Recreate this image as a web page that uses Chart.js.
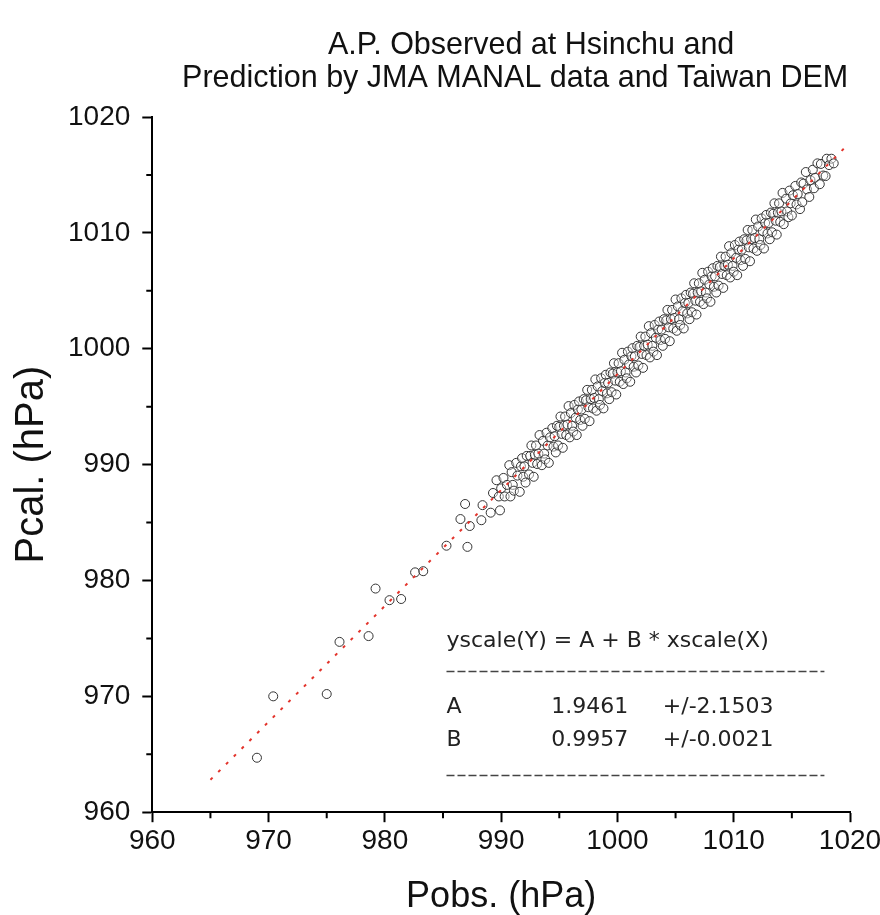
<!DOCTYPE html>
<html lang="en">

<head>
  <meta charset="utf-8" />
  <title>Hsinchu A.P.</title>
  <script src="https://cdn.jsdelivr.net/npm/chart.js@4.4.1/dist/chart.umd.min.js"></script>
  <style>
    body { margin: 0; background: #fff; }
    #wrap { width: 880px; height: 915px; }
  </style>
</head>

<body>
  <div id="wrap"><canvas id="chart" width="880" height="915"></canvas></div>
  <script>
    // title + axis names
    const titleLines = ['A.P. Observed at Hsinchu and', 'Prediction by JMA MANAL data and Taiwan DEM'];
    const xTitle = 'Pobs. (hPa)';
    const yTitle = 'Pcal. (hPa)';

    // axis range (hPa)
    const axisMin = 960;
    const axisMax = 1020;
    const majorStep = 10;
    const minorStep = 5;

    // regression result shown in the box
    const fitA = '1.9461', fitAErr = '+/-2.1503';
    const fitB = '0.9957', fitBErr = '+/-0.0021';
    // ends of the red dotted fit line [Pobs, Pcal]
    const fitLine = [[965.0, 962.8], [1019.7, 1017.5]];

    // scattered low-pressure cases [Pobs, Pcal]
    const sparsePoints = [
      [969.0, 964.7], [970.4, 970.0], [975.0, 970.2], [976.1, 974.7], [978.6, 975.2],
      [979.2, 979.3], [980.4, 978.3], [981.4, 978.4], [982.6, 980.7], [983.3, 980.8],
      [985.3, 983.0], [987.1, 982.9], [986.5, 985.3], [987.3, 984.7], [988.3, 985.2],
      [986.9, 986.6], [988.4, 986.5]
    ];

    // the dense band (989 - 1019 hPa), read off roughly 1 hPa at a time
    const densePoints = [
      [989.1, 985.85], [989.3, 987.55], [989.6, 988.65], [989.8, 987.25], [989.9, 986.05],
      [990.0, 987.95], [990.2, 988.85], [990.3, 987.25], [990.5, 988.25], [990.7, 989.95], [990.8, 987.25], [990.9, 989.35],
      [991.0, 988.25], [991.1, 987.75], [991.3, 990.15], [991.4, 989.05], [991.6, 987.65], [991.7, 989.85], [991.8, 990.55], [991.9, 988.95],
      [992.0, 989.85], [992.1, 988.45], [992.2, 990.75], [992.4, 989.15], [992.5, 990.75], [992.6, 991.65], [992.7, 990.15], [992.8, 988.95], [992.9, 990.85],
      [993.0, 991.65], [993.1, 990.05], [993.2, 990.95], [993.3, 992.55], [993.5, 989.95], [993.6, 992.05], [993.7, 990.95], [993.8, 990.45], [993.9, 992.75],
      [994.0, 991.65], [994.1, 990.15], [994.2, 992.35], [994.4, 993.15], [994.5, 991.55], [994.6, 992.45], [994.7, 991.05], [994.8, 993.35], [994.9, 991.65],
      [995.0, 993.25], [995.1, 994.15], [995.2, 992.65], [995.3, 991.45], [995.4, 993.35], [995.5, 994.15], [995.6, 992.55], [995.7, 993.45], [995.8, 995.05], [995.9, 992.35],
      [996.0, 994.45], [996.1, 993.35], [996.2, 992.85], [996.3, 995.15], [996.4, 994.05], [996.5, 992.55], [996.6, 994.75], [996.7, 995.45], [996.8, 993.85], [996.9, 994.75],
      [997.0, 993.35], [997.1, 995.65], [997.2, 993.95], [997.3, 995.55], [997.4, 996.45], [997.5, 994.95], [997.6, 993.75], [997.7, 995.65], [997.8, 996.45], [997.9, 994.85],
      [998.0, 995.75], [998.1, 997.35], [998.2, 994.65], [998.3, 996.75], [998.4, 995.65], [998.5, 995.15], [998.6, 997.45], [998.7, 996.35], [998.8, 994.85], [998.9, 997.05],
      [999.0, 997.75], [999.1, 996.15], [999.2, 997.05], [999.3, 995.65], [999.4, 997.95], [999.5, 996.25], [999.6, 997.85], [999.7, 998.75], [999.8, 997.25], [999.9, 996.05],
      [1000.0, 997.95], [1000.1, 998.75], [1000.2, 997.15], [1000.3, 998.05], [1000.4, 999.65], [1000.5, 996.95], [1000.6, 999.05], [1000.7, 997.95], [1000.8, 997.45], [1000.9, 999.75],
      [1001.0, 998.65], [1001.1, 997.15], [1001.2, 999.35], [1001.3, 1000.05], [1001.4, 998.45], [1001.5, 999.35], [1001.6, 997.95], [1001.7, 1000.25], [1001.8, 998.55], [1001.9, 1000.15],
      [1002.0, 1001.05], [1002.1, 999.55], [1002.2, 998.35], [1002.3, 1000.25], [1002.4, 1001.05], [1002.5, 999.45], [1002.6, 1000.35], [1002.7, 1001.95], [1002.8, 999.25], [1002.9, 1001.35],
      [1003.0, 1000.25], [1003.1, 999.75], [1003.2, 1002.05], [1003.3, 1000.95], [1003.4, 999.45], [1003.5, 1001.65], [1003.6, 1002.35], [1003.7, 1000.75], [1003.8, 1001.65], [1003.9, 1000.25],
      [1004.0, 1002.55], [1004.1, 1000.85], [1004.2, 1002.45], [1004.3, 1003.35], [1004.4, 1001.85], [1004.5, 1000.65], [1004.6, 1002.55], [1004.7, 1003.35], [1004.8, 1001.75], [1004.9, 1002.65],
      [1005.0, 1004.25], [1005.1, 1001.55], [1005.2, 1003.65], [1005.3, 1002.55], [1005.4, 1002.05], [1005.5, 1004.35], [1005.6, 1003.25], [1005.7, 1001.75], [1005.8, 1003.95], [1005.9, 1004.65],
      [1006.0, 1003.05], [1006.1, 1003.95], [1006.2, 1002.55], [1006.3, 1004.85], [1006.4, 1003.15], [1006.5, 1004.75], [1006.6, 1005.65], [1006.7, 1004.15], [1006.8, 1002.95], [1006.9, 1004.85],
      [1007.0, 1005.65], [1007.1, 1004.05], [1007.2, 1004.95], [1007.3, 1006.55], [1007.4, 1003.85], [1007.5, 1005.95], [1007.6, 1004.85], [1007.7, 1004.35], [1007.8, 1006.65], [1007.9, 1005.55],
      [1008.0, 1004.05], [1008.1, 1006.25], [1008.2, 1006.95], [1008.3, 1005.35], [1008.4, 1006.25], [1008.5, 1004.85], [1008.6, 1007.15], [1008.7, 1005.45], [1008.8, 1007.05], [1008.9, 1007.95],
      [1009.0, 1006.45], [1009.1, 1005.25], [1009.2, 1007.15], [1009.3, 1007.95], [1009.4, 1006.35], [1009.5, 1007.25], [1009.6, 1008.85], [1009.7, 1006.15], [1009.8, 1008.25], [1009.9, 1007.15],
      [1010.0, 1006.65], [1010.1, 1008.95], [1010.2, 1007.85], [1010.3, 1006.35], [1010.4, 1008.55], [1010.5, 1009.25], [1010.6, 1007.65], [1010.7, 1008.55], [1010.8, 1007.15], [1010.9, 1009.45],
      [1011.0, 1007.75], [1011.1, 1009.35], [1011.2, 1010.25], [1011.3, 1008.75], [1011.4, 1007.55], [1011.5, 1009.45], [1011.6, 1010.25], [1011.7, 1008.65], [1011.8, 1009.55], [1011.9, 1011.15],
      [1012.0, 1008.45], [1012.1, 1010.55], [1012.2, 1009.45], [1012.3, 1008.95], [1012.4, 1011.25], [1012.5, 1010.15], [1012.6, 1008.65], [1012.7, 1010.85], [1012.8, 1011.55], [1012.9, 1009.95],
      [1013.0, 1010.85], [1013.1, 1009.45], [1013.2, 1011.75], [1013.3, 1010.05], [1013.4, 1011.65], [1013.5, 1012.55], [1013.6, 1011.05], [1013.7, 1009.85], [1013.8, 1011.75], [1013.9, 1012.55],
      [1014.0, 1010.95], [1014.1, 1011.85], [1014.2, 1013.45], [1014.3, 1010.75], [1014.5, 1012.95], [1014.6, 1011.85], [1014.7, 1011.35], [1014.8, 1013.65], [1014.9, 1012.55],
      [1015.0, 1011.5], [1015.1, 1013.25], [1015.3, 1014.05], [1015.4, 1012.45], [1015.5, 1013.35], [1015.7, 1012.05], [1015.8, 1014.35], [1015.9, 1012.65],
      [1016.0, 1014.25], [1016.2, 1015.25], [1016.3, 1013.75], [1016.5, 1013.1], [1016.6, 1014.55], [1016.8, 1015.45], [1016.9, 1013.85],
      [1017.0, 1014.75], [1017.2, 1016.0], [1017.4, 1014.2], [1017.5, 1015.95], [1017.7, 1014.95], [1017.9, 1014.9],
      [1018.0, 1016.4], [1018.2, 1015.85], [1018.4, 1016.4], [1018.6, 1016.0]
    ];

    const toXY = p => ({ x: p[0], y: p[1] });
    const FONT = "'Liberation Sans', Arial, sans-serif";
    const BOX_FONT = "'DejaVu Sans', sans-serif";

    // two line title, a bit right of the plot centre like the original
    const topTitle = {
      id: 'topTitle',
      afterDraw(chart) {
        const ctx = chart.ctx, ca = chart.chartArea;
        const cx = (ca.left + ca.right) / 2 + 14;
        ctx.save();
        ctx.fillStyle = '#111';
        ctx.font = '30.5px ' + FONT;
        ctx.textAlign = 'center';
        ctx.textBaseline = 'middle';
        ctx.fillText(titleLines[0], cx + 16, 46);
        ctx.fillText(titleLines[1], cx, 79);
        ctx.restore();
      }
    };

    // minor ticks (Chart.js has no minor ticks, draw them by hand)
    const minorTicks = {
      id: 'minorTicks',
      afterDraw(chart) {
        const ctx = chart.ctx, xs = chart.scales.x, ys = chart.scales.y;
        const ca = chart.chartArea;
        ctx.save();
        ctx.strokeStyle = '#000';
        ctx.lineWidth = 2;
        for (let v = axisMin + minorStep; v < axisMax; v += majorStep) {
          const px = xs.getPixelForValue(v);
          const py = ys.getPixelForValue(v);
          ctx.beginPath();
          ctx.moveTo(px, ca.bottom);
          ctx.lineTo(px, ca.bottom + 6);
          ctx.moveTo(ca.left, py);
          ctx.lineTo(ca.left - 6, py);
          ctx.stroke();
        }
        ctx.restore();
      }
    };

    // regression box text
    const fitBox = {
      id: 'fitBox',
      afterDraw(chart) {
        const ctx = chart.ctx, xs = chart.scales.x, ys = chart.scales.y;
        const left = xs.getPixelForValue(985.3);
        const right = xs.getPixelForValue(1017.8);
        const col2 = xs.getPixelForValue(994.3);
        const col3 = xs.getPixelForValue(1003.9);
        ctx.save();
        ctx.fillStyle = '#222';
        ctx.font = '22px ' + BOX_FONT;
        ctx.textBaseline = 'alphabetic';
        ctx.fillText('yscale(Y) = A + B * xscale(X)', left, ys.getPixelForValue(974.3));
        ctx.fillText('A', left, ys.getPixelForValue(968.6));
        ctx.fillText(fitA, col2, ys.getPixelForValue(968.6));
        ctx.fillText(fitAErr, col3, ys.getPixelForValue(968.6));
        ctx.fillText('B', left, ys.getPixelForValue(965.7));
        ctx.fillText(fitB, col2, ys.getPixelForValue(965.7));
        ctx.fillText(fitBErr, col3, ys.getPixelForValue(965.7));
        ctx.strokeStyle = '#444';
        ctx.lineWidth = 1.5;
        ctx.setLineDash([8, 3]);
        [972.2, 963.2].forEach(v => {
          const py = Math.round(ys.getPixelForValue(v)) + 0.5;
          ctx.beginPath();
          ctx.moveTo(left, py);
          ctx.lineTo(right, py);
          ctx.stroke();
        });
        ctx.restore();
      }
    };

    const axisStyle = (title, titleSize, titlePad, tickPad) => ({
      type: 'linear',
      min: axisMin,
      max: axisMax,
      border: { display: true, color: '#000', width: 2 },
      grid: {
        display: true,
        drawOnChartArea: false,
        drawTicks: true,
        tickLength: 10,
        tickWidth: 2,
        tickColor: '#000'
      },
      ticks: {
        stepSize: majorStep,
        color: '#111',
        padding: tickPad,
        font: { family: FONT, size: 28 },
        callback: v => String(v)
      },
      title: {
        display: true,
        text: title,
        color: '#111',
        padding: titlePad,
        font: { family: FONT, size: titleSize }
      }
    });

    const xAxis = axisStyle(xTitle, 36, { top: 16, bottom: -4 }, 2);
    // let the last x label hang a little past the plot edge
    xAxis.afterFit = s => { s.paddingRight = 30; };
    const yAxis = axisStyle(yTitle, 40, { top: 4, bottom: 0 }, 12);

    new Chart(document.getElementById('chart'), {
      type: 'scatter',
      data: {
        datasets: [{
          label: 'fit',
          type: 'line',
          data: fitLine.map(toXY),
          borderColor: '#e3342c',
          borderWidth: 2,
          borderDash: [3, 8],
          pointRadius: 0,
          fill: false,
          order: 0
        }, {
          label: 'obs',
          data: sparsePoints.concat(densePoints).map(toXY),
          pointStyle: 'circle',
          pointRadius: 4.5,
          borderColor: '#333',
          borderWidth: 1,
          backgroundColor: 'rgba(255,255,255,0.4)',
          order: 1
        }]
      },
      options: {
        responsive: false,
        animation: false,
        layout: { padding: { top: 117, right: 0, left: 4, bottom: 0 } },
        plugins: {
          legend: { display: false },
          tooltip: { enabled: false },
          title: { display: false }
        },
        scales: { x: xAxis, y: yAxis }
      },
      plugins: [minorTicks, fitBox, topTitle]
    });
  </script>
</body>

</html>
